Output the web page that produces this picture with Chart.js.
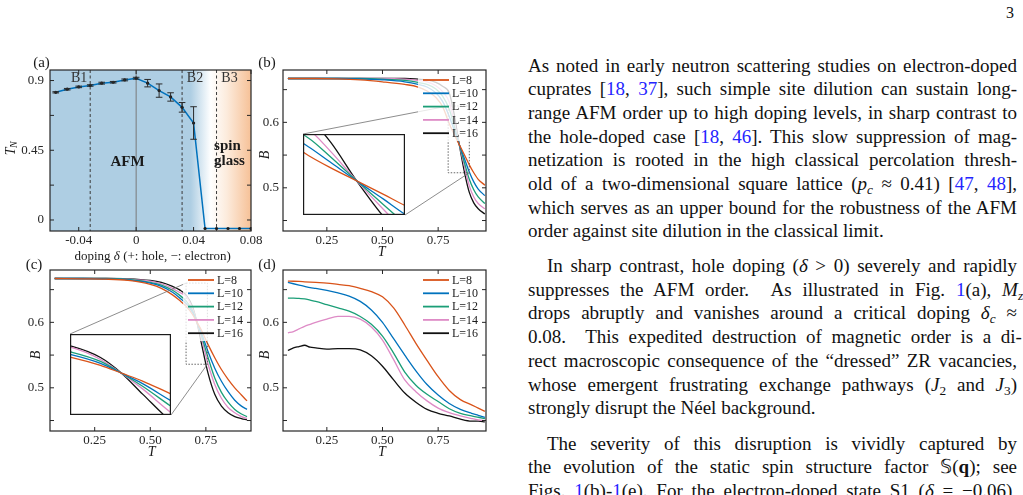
<!DOCTYPE html>
<html>
<head>
<meta charset="utf-8">
<title>Fig. 1 - Neel temperature and Binder ratio</title>
<script src="https://cdn.jsdelivr.net/npm/chart.js@4.4.1/dist/chart.umd.min.js"></script>
<style>
  html, body { margin: 0; padding: 0; background: #fff; }
  body { width: 1023px; height: 495px; overflow: hidden; position: relative;
         font-family: "Liberation Serif", "Times New Roman", serif; color: #111; }
  canvas { position: absolute; }
  .page-no { position: absolute; left: 1006px; top: 5px; font-size: 16px; line-height: 16px; }
  .para { position: absolute; left: 528px; width: 489px; font-size: 19px; line-height: 23.7px; }
  .ln { white-space: nowrap; }
  .ln.ind { padding-left: 19px; }
  .para a { color: #2424ff; text-decoration: none; }
  sub { font-size: 0.7em; vertical-align: -0.28em; line-height: 0; }
</style>
</head>
<body>

<canvas id="chartA" width="262" height="218" style="left:0;top:50px"></canvas>
<canvas id="chartB" width="240" height="218" style="left:255px;top:50px"></canvas>
<canvas id="chartC" width="262" height="218" style="left:0;top:250px"></canvas>
<canvas id="chartD" width="240" height="218" style="left:255px;top:250px"></canvas>

<div class="page-no">3</div>

<div class="para" style="top:53.5px">
<div class="ln">As noted in early neutron scattering studies on electron-doped</div>
<div class="ln">cuprates [<a>18</a>, <a>37</a>], such simple site dilution can sustain long-</div>
<div class="ln">range AFM order up to high doping levels, in sharp contrast to</div>
<div class="ln">the hole-doped case [<a>18</a>, <a>46</a>]. This slow suppression of mag-</div>
<div class="ln">netization is rooted in the high classical percolation thresh-</div>
<div class="ln">old of a two-dimensional square lattice (<i>p<sub>c</sub></i> ≈ 0.41) [<a>47</a>, <a>48</a>],</div>
<div class="ln">which serves as an upper bound for the robustness of the AFM</div>
<div class="ln last">order against site dilution in the classical limit.</div>
</div>

<div class="para" style="top:254px">
<div class="ln ind">In sharp contrast, hole doping (<i>δ</i> &gt; 0) severely and rapidly</div>
<div class="ln">suppresses the AFM order. &nbsp;As illustrated in Fig. <a>1</a>(a), <i>M<sub>z</sub></i></div>
<div class="ln">drops abruptly and vanishes around a critical doping <i>δ<sub>c</sub></i> ≈</div>
<div class="ln">0.08. &nbsp;This expedited destruction of magnetic order is a di-</div>
<div class="ln">rect macroscopic consequence of the “dressed” ZR vacancies,</div>
<div class="ln">whose emergent frustrating exchange pathways (<i>J</i><sub>2</sub> and <i>J</i><sub>3</sub>)</div>
<div class="ln last">strongly disrupt the Néel background.</div>
</div>

<div class="para" style="top:431.5px">
<div class="ln ind">The severity of this disruption is vividly captured by</div>
<div class="ln">the evolution of the static spin structure factor 𝕊(<b>q</b>); see</div>
<div class="ln">Figs. <a>1</a>(b)-<a>1</a>(e). For the electron-doped state S1 (<i>δ</i> = −0.06),</div>
</div>

<script>
// ---------- (a) T_N vs doping ----------
const doping = [-0.056, -0.048, -0.040, -0.032, -0.024, -0.016, -0.008, 0, 0.008, 0.016, 0.024, 0.032, 0.040, 0.048, 0.056, 0.064, 0.072, 0.080];
const tnVals = [0.824, 0.844, 0.859, 0.868, 0.883, 0.889, 0.904, 0.915, 0.883, 0.835, 0.794, 0.727, 0.626, -0.055, -0.055, -0.055, -0.055, -0.055];
const tnErr  = [0.004, 0.005, 0.005, 0.005, 0.006, 0.005, 0.006, 0.006, 0.024, 0.043, 0.027, 0.031, 0.105, 0, 0, 0, 0, 0];
const boundaries = [-0.032, 0.032, 0.056];
const dopingTicks = [-0.04, 0, 0.04, 0.08];
const tnTicks = [0, 0.225, 0.45, 0.675, 0.9];
const tnTickLabels = [0, 0.45, 0.9];

// ---------- (b)-(d) Binder ratio B vs T ----------
const sizes = ['L=8', 'L=10', 'L=12', 'L=14', 'L=16'];

const tempB = [0.075, 0.2, 0.3, 0.4, 0.5, 0.6, 0.66, 0.7, 0.74, 0.77, 0.8, 0.82, 0.845, 0.87, 0.89, 0.91, 0.93, 0.96];
const bL8  = [0.667, 0.667, 0.6665, 0.665, 0.662, 0.658, 0.654, 0.648, 0.638, 0.624, 0.598, 0.583, 0.566, 0.549, 0.535, 0.523, 0.513, 0.504];
const bL10 = [0.667, 0.667, 0.667, 0.6665, 0.665, 0.662, 0.658, 0.654, 0.645, 0.632, 0.609, 0.590, 0.566, 0.543, 0.524, 0.509, 0.498, 0.488];
const bL12 = [0.667, 0.667, 0.667, 0.667, 0.666, 0.664, 0.661, 0.658, 0.651, 0.640, 0.620, 0.597, 0.566, 0.536, 0.513, 0.497, 0.486, 0.476];
const bL14 = [0.667, 0.667, 0.667, 0.667, 0.667, 0.666, 0.664, 0.662, 0.656, 0.647, 0.631, 0.604, 0.566, 0.530, 0.503, 0.486, 0.476, 0.468];
const bL16 = [0.667, 0.667, 0.667, 0.667, 0.667, 0.667, 0.666, 0.665, 0.661, 0.655, 0.645, 0.616, 0.566, 0.521, 0.493, 0.477, 0.468, 0.460];

const tempC = [0.07, 0.2, 0.3, 0.4, 0.5, 0.55, 0.6, 0.63, 0.663, 0.69, 0.71, 0.73, 0.76, 0.79, 0.82, 0.85, 0.88, 0.91, 0.935];
const cL8  = [0.667, 0.6665, 0.666, 0.664, 0.658, 0.652, 0.642, 0.634, 0.624, 0.612, 0.600, 0.588, 0.566, 0.546, 0.528, 0.513, 0.500, 0.489, 0.480];
const cL10 = [0.667, 0.667, 0.6665, 0.665, 0.660, 0.655, 0.646, 0.638, 0.628, 0.615, 0.600, 0.584, 0.555, 0.530, 0.510, 0.494, 0.481, 0.472, 0.467];
const cL12 = [0.667, 0.667, 0.667, 0.6655, 0.661, 0.657, 0.649, 0.642, 0.632, 0.618, 0.600, 0.580, 0.546, 0.515, 0.493, 0.478, 0.467, 0.460, 0.456];
const cL14 = [0.667, 0.667, 0.667, 0.666, 0.663, 0.659, 0.652, 0.646, 0.639, 0.621, 0.600, 0.576, 0.536, 0.505, 0.484, 0.470, 0.462, 0.456, 0.453];
const cL16 = [0.667, 0.667, 0.667, 0.6665, 0.664, 0.661, 0.655, 0.650, 0.641, 0.624, 0.600, 0.568, 0.522, 0.490, 0.472, 0.462, 0.456, 0.453, 0.451];

const tempD = [0.075, 0.1, 0.125, 0.15, 0.175, 0.2, 0.25, 0.3, 0.35, 0.4, 0.45, 0.5, 0.55, 0.6, 0.65, 0.7, 0.75, 0.8, 0.85, 0.9, 0.93, 0.96];
const dL8  = [0.663, 0.6628, 0.6625, 0.662, 0.6615, 0.661, 0.660, 0.658, 0.656, 0.652, 0.647, 0.639, 0.622, 0.596, 0.568, 0.542, 0.517, 0.496, 0.482, 0.474, 0.469, 0.464];
const dL10 = [0.661, 0.659, 0.657, 0.655, 0.653, 0.652, 0.649, 0.645, 0.640, 0.632, 0.619, 0.600, 0.575, 0.550, 0.526, 0.505, 0.489, 0.476, 0.467, 0.461, 0.458, 0.455];
const dL12 = [0.637, 0.637, 0.6365, 0.636, 0.634, 0.632, 0.627, 0.622, 0.617, 0.609, 0.597, 0.579, 0.553, 0.524, 0.504, 0.490, 0.479, 0.468, 0.461, 0.457, 0.455, 0.453];
const dL14 = [0.584, 0.586, 0.590, 0.594, 0.597, 0.600, 0.605, 0.609, 0.609, 0.605, 0.593, 0.573, 0.543, 0.512, 0.494, 0.480, 0.469, 0.462, 0.457, 0.453, 0.451, 0.450];
const dL16 = [0.557, 0.561, 0.563, 0.565, 0.562, 0.561, 0.559, 0.560, 0.560, 0.558, 0.549, 0.533, 0.512, 0.492, 0.478, 0.467, 0.461, 0.457, 0.452, 0.449, 0.449, 0.448];

const tTicks = [0.25, 0.5, 0.75];
const bTicks = [0.45, 0.5, 0.55, 0.6, 0.65];
const bTickLabels = [0.5, 0.6];

// styling
const FONT = '"Liberation Serif", "Times New Roman", serif';
const INK = '#262626';
const lineColors = ['#D95319', '#0072BD', '#1B9E77', '#DE8BC6', '#111111'];


function fixedAxes(xMin, xMax, yMin, yMax, yWidth, yPad, xTickVals, yTickVals, xLabel, yLabel) {
    const tickFont = { family: FONT, size: 13 };
    return {
        x: {
            type: 'linear', min: xMin, max: xMax,
            grid: { display: false, drawTicks: false }, border: { display: false },
            afterBuildTicks: s => { s.ticks = xTickVals.map(v => ({ value: v })); },
            ticks: { font: tickFont, color: INK, padding: 2, autoSkip: false, maxRotation: 0, callback: xLabel },
            afterFit: s => { s.height = 37; s.paddingLeft = 0; s.paddingRight = 0; }
        },
        y: {
            type: 'linear', min: yMin, max: yMax,
            grid: { display: false, drawTicks: false }, border: { display: false },
            afterBuildTicks: s => { s.ticks = yTickVals.map(v => ({ value: v })); },
            ticks: { font: tickFont, color: INK, padding: yPad, autoSkip: false, callback: yLabel },
            afterFit: s => { s.width = yWidth; s.paddingTop = 0; s.paddingBottom = 0; }
        }
    };
}

// box around the plot with inward ticks on all four sides
const framePlugin = {
    id: 'frame',
    afterDatasetsDraw(chart) {
        const { ctx, chartArea: a, scales } = chart;
        ctx.save();
        ctx.strokeStyle = INK;
        ctx.lineWidth = 1;
        ctx.beginPath();
        scales.x.ticks.forEach(t => {
            const px = scales.x.getPixelForValue(t.value);
            ctx.moveTo(px, a.bottom); ctx.lineTo(px, a.bottom - 4);
            ctx.moveTo(px, a.top); ctx.lineTo(px, a.top + 4);
        });
        scales.y.ticks.forEach(t => {
            const py = scales.y.getPixelForValue(t.value);
            ctx.moveTo(a.left, py); ctx.lineTo(a.left + 4, py);
            ctx.moveTo(a.right, py); ctx.lineTo(a.right - 4, py);
        });
        ctx.stroke();
        ctx.lineWidth = 1.2;
        ctx.strokeRect(a.left, a.top, a.right - a.left, a.bottom - a.top);
        ctx.restore();
    }
};

function drawRich(ctx, parts, cx, cy) {
    let total = 0;
    parts.forEach(p => { ctx.font = p[1]; total += ctx.measureText(p[0]).width; });
    let x = cx - total / 2;
    ctx.textAlign = 'left';
    ctx.textBaseline = 'middle';
    parts.forEach(p => { ctx.font = p[1]; ctx.fillText(p[0], x, cy); x += ctx.measureText(p[0]).width; });
}

function drawText(ctx, text, x, y, font, color) {
    ctx.font = font;
    ctx.fillStyle = color || '#1a1a1a';
    ctx.textAlign = 'center';
    ctx.textBaseline = 'middle';
    ctx.fillText(text, x, y);
}

function drawItalicB(ctx, x, y) {
    ctx.save();
    ctx.translate(x, y);
    ctx.rotate(-Math.PI / 2);
    drawText(ctx, 'B', 0, 0, 'italic 14px ' + FONT);
    ctx.restore();
}

function drawLegend(chart) {
    const { ctx, chartArea: a } = chart;
    ctx.save();
    ctx.fillStyle = 'rgba(255,255,255,0.8)';
    ctx.fillRect(a.right - 68, a.top + 2, 66, 69);
    ctx.font = '12px ' + FONT;
    ctx.textBaseline = 'middle';
    ctx.textAlign = 'left';
    chart.data.datasets.forEach((ds, i) => {
        const y = a.top + 10 + i * 13.3;
        ctx.strokeStyle = ds.borderColor;
        ctx.lineWidth = 1.8;
        ctx.beginPath(); ctx.moveTo(a.right - 63, y); ctx.lineTo(a.right - 37, y); ctx.stroke();
        ctx.fillStyle = '#1a1a1a';
        ctx.fillText(ds.label, a.right - 34, y + 0.5);
    });
    ctx.restore();
}

// dotted box on the main plot + the two lines leading to the inset
function drawZoomGuides(chart, rect, inset, origin) {
    const { ctx, scales: { x, y } } = chart;
    const x0 = x.getPixelForValue(rect.t0), x1 = x.getPixelForValue(rect.t1);
    const y0 = y.getPixelForValue(rect.b0), y1 = y.getPixelForValue(rect.b1);
    const ix0 = inset.left - origin[0], iy0 = inset.top - origin[1];
    ctx.save();
    ctx.strokeStyle = '#555';
    ctx.lineWidth = 0.9;
    ctx.setLineDash([1.5, 1.5]);
    ctx.strokeRect(x0, y1, x1 - x0, y0 - y1);
    ctx.setLineDash([]);
    ctx.strokeStyle = '#707070';
    ctx.lineWidth = 0.8;
    ctx.beginPath();
    ctx.moveTo(ix0, iy0); ctx.lineTo(x0, y1);
    ctx.moveTo(ix0 + inset.width, iy0 + inset.height); ctx.lineTo(x1, y0);
    ctx.stroke();
    ctx.restore();
}

function curveDatasets(temps, series, width) {
    return series.map((s, i) => ({
        label: sizes[i],
        data: temps.map((t, k) => ({ x: t, y: s[k] })),
        borderColor: lineColors[i],
        borderWidth: width,
        pointRadius: 0,
        cubicInterpolationMode: 'monotone',
        fill: false
    }));
}

const baseOptions = {
    responsive: false,
    animation: false,
    events: [],
    plugins: { legend: { display: false }, tooltip: { enabled: false } }
};

const fmtT = v => v.toFixed(2);
const fmtB = v => bTickLabels.includes(v) ? v.toFixed(1) : '';


// ---------- panel (a) ----------
const panelA = {
    id: 'panelA',
    beforeDatasetsDraw(chart) {
        const { ctx, chartArea: a, scales: { x, y } } = chart;
        ctx.save();
        const g = ctx.createLinearGradient(a.left, 0, a.right, 0);
        g.addColorStop(0, '#aecee3');
        g.addColorStop(0.70, '#aecee3');
        g.addColorStop(0.80, '#ffffff');
        g.addColorStop(0.88, '#fcebdc');
        g.addColorStop(1, '#f6c197');
        ctx.fillStyle = g;
        ctx.fillRect(a.left, a.top, a.right - a.left, a.bottom - a.top);

        // zero-doping line
        ctx.strokeStyle = '#7a7a7a';
        ctx.lineWidth = 1;
        const x0 = x.getPixelForValue(0);
        ctx.beginPath(); ctx.moveTo(x0, a.top); ctx.lineTo(x0, a.bottom); ctx.stroke();

        // region boundaries
        ctx.strokeStyle = '#3a3a3a';
        ctx.setLineDash([3, 2.5]);
        boundaries.forEach(b => {
            const px = x.getPixelForValue(b);
            ctx.beginPath(); ctx.moveTo(px, a.top); ctx.lineTo(px, a.bottom); ctx.stroke();
        });
        ctx.setLineDash([]);

        const reg = '14px ' + FONT;
        drawText(ctx, 'B1', x.getPixelForValue(-0.0397), y.getPixelForValue(0.913), reg, '#333');
        drawText(ctx, 'B2', x.getPixelForValue(0.041), y.getPixelForValue(0.913), reg, '#333');
        drawText(ctx, 'B3', x.getPixelForValue(0.065), y.getPixelForValue(0.913), reg, '#333');
        const bold = 'bold 15px ' + FONT;
        drawText(ctx, 'AFM', x.getPixelForValue(-0.006), y.getPixelForValue(0.371), bold, '#1a1a1a');
        drawText(ctx, 'spin', x.getPixelForValue(0.0636), y.getPixelForValue(0.477), bold, '#1a1a1a');
        drawText(ctx, 'glass', x.getPixelForValue(0.065), y.getPixelForValue(0.381), bold, '#1a1a1a');
        ctx.restore();
    },
    afterDatasetsDraw(chart) {
        const { ctx, scales: { x, y } } = chart;
        ctx.save();
        ctx.strokeStyle = '#2a2a2a';
        ctx.lineWidth = 1;
        doping.forEach((d, i) => {
            if (!tnErr[i]) return;
            const px = x.getPixelForValue(d);
            const lo = y.getPixelForValue(tnVals[i] - tnErr[i]);
            const hi = y.getPixelForValue(tnVals[i] + tnErr[i]);
            ctx.beginPath();
            ctx.moveTo(px, lo); ctx.lineTo(px, hi);
            ctx.moveTo(px - 3.3, lo); ctx.lineTo(px + 3.3, lo);
            ctx.moveTo(px - 3.3, hi); ctx.lineTo(px + 3.3, hi);
            ctx.stroke();
        });

        drawText(ctx, '(a)', 41.5, 13, '15px ' + FONT);
        ctx.fillStyle = '#1a1a1a';
        drawRich(ctx, [['doping ', '13px ' + FONT], ['δ', 'italic 13px ' + FONT], [' (+: hole, −: electron)', '13px ' + FONT]], 152.7, 207);

        // T_N, rotated
        ctx.translate(11, 98);
        ctx.rotate(-Math.PI / 2);
        ctx.textAlign = 'left';
        ctx.textBaseline = 'middle';
        ctx.font = 'italic 14px ' + FONT;
        const wT = ctx.measureText('T').width;
        ctx.font = 'italic 10px ' + FONT;
        const wN = ctx.measureText('N').width;
        const start = -(wT + wN) / 2;
        ctx.font = 'italic 14px ' + FONT;
        ctx.fillText('T', start, 0);
        ctx.font = 'italic 10px ' + FONT;
        ctx.fillText('N', start + wT - 0.5, 3.5);
        ctx.restore();
    }
};

new Chart(document.getElementById('chartA'), {
    type: 'line',
    data: {
        datasets: [{
            data: doping.map((d, i) => ({ x: d, y: tnVals[i] })),
            borderColor: '#0072BD',
            borderWidth: 1.5,
            pointRadius: 1.6,
            pointBackgroundColor: '#1a1a1a',
            pointBorderWidth: 0,
            tension: 0
        }]
    },
    options: Object.assign({}, baseOptions, {
        layout: { padding: { left: 0, right: 11, top: 20, bottom: 0 } },
        scales: fixedAxes(-0.06, 0.08, -0.071, 0.968, 50, 6, dopingTicks, tnTicks,
            v => v === 0 ? '0' : v.toFixed(2),
            v => tnTickLabels.includes(v) ? String(v) : '')
    }),
    plugins: [panelA, framePlugin]
});


// ---------- panels (b), (c), (d) ----------
const insetB = { left: 303, top: 134, width: 102, height: 81 };
const insetC = { left: 70, top: 334, width: 101, height: 81 };
const zoomB = { t0: 0.795, t1: 0.89, b0: 0.523, b1: 0.625 };
const zoomC = { t0: 0.661, t1: 0.757, b0: 0.536, b1: 0.660 };

function curvePanel(id, origin, temps, series, xMin, xMax, yWidth, yPad, tag, tagPos, bPos, tPos, zoom, inset) {
    const deco = {
        id: 'deco' + tag,
        afterDatasetsDraw(chart) {
            const { ctx } = chart;
            if (zoom) drawZoomGuides(chart, zoom, inset, origin);
            drawLegend(chart);
            ctx.save();
            drawText(ctx, tag, tagPos[0], tagPos[1], '15px ' + FONT);
            drawText(ctx, 'T', tPos[0], tPos[1], 'italic 14px ' + FONT);
            drawItalicB(ctx, bPos[0], bPos[1]);
            ctx.restore();
        }
    };
    const cv = document.getElementById(id);
    new Chart(cv, {
        type: 'line',
        data: { datasets: curveDatasets(temps, series, 1.3) },
        options: Object.assign({}, baseOptions, {
            layout: { padding: { left: 0, right: cv.width - yWidth - (cv.width === 240 ? 203 : 201), top: 20, bottom: 0 } },
            scales: fixedAxes(xMin, xMax, 0.434, 0.680, yWidth, yPad, tTicks, bTicks, fmtT, fmtB)
        }),
        plugins: [deco, framePlugin]
    });

    if (zoom) {
        const ic = document.createElement('canvas');
        ic.width = inset.width;
        ic.height = inset.height;
        ic.style.left = inset.left + 'px';
        ic.style.top = inset.top + 'px';
        document.body.appendChild(ic);
        const insetFrame = {
            id: 'insetFrame',
            beforeDraw(chart) {
                chart.ctx.save();
                chart.ctx.fillStyle = '#fff';
                chart.ctx.fillRect(0, 0, chart.width, chart.height);
                chart.ctx.restore();
            },
            afterDraw(chart) {
                const c = chart.ctx;
                c.save();
                c.strokeStyle = '#1a1a1a';
                c.lineWidth = 1.2;
                c.strokeRect(0.6, 0.6, chart.width - 1.2, chart.height - 1.2);
                c.restore();
            }
        };
        new Chart(ic, {
            type: 'line',
            data: { datasets: curveDatasets(temps, series, 1.3) },
            options: Object.assign({}, baseOptions, {
                layout: { padding: 0 },
                scales: {
                    x: { type: 'linear', display: false, min: zoom.t0, max: zoom.t1 },
                    y: { type: 'linear', display: false, min: zoom.b0, max: zoom.b1 }
                }
            }),
            plugins: [insetFrame]
        });
    }
}

curvePanel('chartB', [255, 50], tempB, [bL8, bL10, bL12, bL14, bL16], 0.053, 0.965, 28, 4,
    '(b)', [12, 13], [10.5, 105], [126.7, 202.5], zoomB, insetB);
curvePanel('chartC', [0, 250], tempC, [cL8, cL10, cL12, cL14, cL16], 0.049, 0.953, 50, 6,
    '(c)', [34, 15], [36.7, 105], [151.7, 202.5], zoomC, insetC);
curvePanel('chartD', [255, 250], tempD, [dL8, dL10, dL12, dL14, dL16], 0.053, 0.965, 28, 4,
    '(d)', [12, 15], [10.5, 105], [127, 202.5], null, null);


// ---------- justify the text column line by line ----------
function justifyLines() {
    document.querySelectorAll('.ln').forEach(el => {
        if (!el.firstElementChild || !el.firstElementChild.classList.contains('inner')) {
            el.innerHTML = '<span class="inner">' + el.innerHTML + '</span>';
        }
        el.style.wordSpacing = '0px';
        if (el.classList.contains('last')) return;
        const target = 489 - (el.classList.contains('ind') ? 19 : 0);
        const w = el.firstElementChild.getBoundingClientRect().width;
        const n = (el.textContent.replace(/\s+/g, ' ').trim().match(/ /g) || []).length;
        if (n > 0) el.style.wordSpacing = ((target - w) / n) + 'px';
    });
}
justifyLines();
if (document.fonts && document.fonts.ready) document.fonts.ready.then(justifyLines);
</script>
</body>
</html>
